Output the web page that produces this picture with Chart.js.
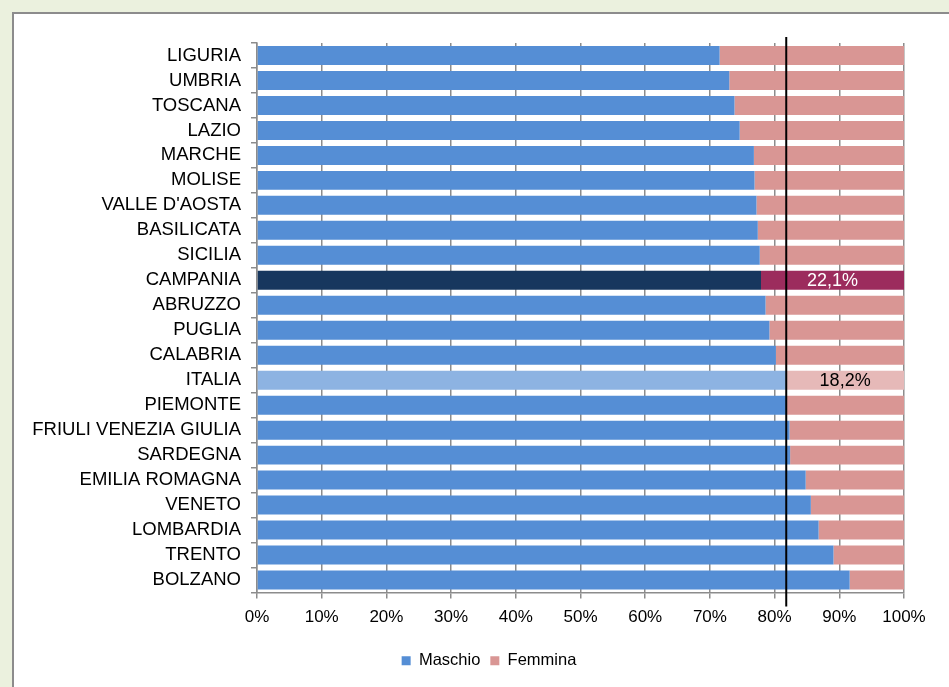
<!DOCTYPE html>
<html lang="it">
<head>
<meta charset="utf-8">
<title>Maschio / Femmina per regione</title>
<script src="https://cdn.jsdelivr.net/npm/chart.js@4.4.1/dist/chart.umd.min.js"></script>
<style>
  html, body { margin: 0; padding: 0; }
  body { width: 949px; height: 687px; background: #ebf1de; position: relative; overflow: hidden; }
  #panel { position: absolute; left: 12px; top: 12px; right: 0; bottom: 0;
           background: #ffffff; border-left: 2px solid #8c8c8c; border-top: 2px solid #8c8c8c; }
  #wrap { position: absolute; left: 0; top: 0; width: 949px; height: 687px; }
</style>
</head>
<body>
<div id="panel"></div>
<div id="wrap"><canvas id="chart" width="949" height="687"></canvas></div>
<script>
// Regions, sorted by share of men
const categories = [
  'LIGURIA', 'UMBRIA', 'TOSCANA', 'LAZIO', 'MARCHE', 'MOLISE', "VALLE D'AOSTA",
  'BASILICATA', 'SICILIA', 'CAMPANIA', 'ABRUZZO', 'PUGLIA', 'CALABRIA', 'ITALIA',
  'PIEMONTE', 'FRIULI VENEZIA GIULIA', 'SARDEGNA', 'EMILIA ROMAGNA', 'VENETO',
  'LOMBARDIA', 'TRENTO', 'BOLZANO'
];
// Percentage of men
const maschio = [
  71.5, 73.0, 73.8, 74.6, 76.8, 76.9, 77.2,
  77.4, 77.7, 77.9, 78.6, 79.2, 80.2, 81.8,
  81.9, 82.3, 82.4, 84.8, 85.6,
  86.8, 89.1, 91.6
];
// Percentage of women
const femmina = [
  28.5, 27.0, 26.2, 25.4, 23.2, 23.1, 22.8,
  22.6, 22.3, 22.1, 21.4, 20.8, 19.8, 18.2,
  18.1, 17.7, 17.6, 15.2, 14.4,
  13.2, 10.9, 8.4
];
const seriesNames = ['Maschio', 'Femmina'];

const HIGHLIGHT = 'CAMPANIA';
const NATIONAL = 'ITALIA';

const colMaschio = categories.map(c => c === HIGHLIGHT ? '#17375e' : c === NATIONAL ? '#8db3e2' : '#558ed5');
const colFemmina = categories.map(c => c === HIGHLIGHT ? '#9c2c5d' : c === NATIONAL ? '#e6b9b8' : '#d99694');

const FONT = "'Liberation Sans', Arial, sans-serif";

// Value labels on the women's segment of the highlighted rows
const valueLabels = {
  id: 'valueLabels',
  afterDatasetsDraw(chart) {
    const ctx = chart.ctx;
    const meta = chart.getDatasetMeta(1);
    ctx.save();
    ctx.font = '18px ' + FONT;
    ctx.textAlign = 'center';
    ctx.textBaseline = 'middle';
    [HIGHLIGHT, NATIONAL].forEach(name => {
      const i = categories.indexOf(name);
      const bar = meta.data[i];
      const p = bar.getProps(['x', 'y', 'base'], true);
      const txt = femmina[i].toFixed(1).replace('.', ',') + '%';
      ctx.fillStyle = name === HIGHLIGHT ? '#ffffff' : '#000000';
      ctx.fillText(txt, (p.x + p.base) / 2, p.y + 1);
    });
    ctx.restore();
  }
};

// Vertical reference line at the national share of men
const nationalLine = {
  id: 'nationalLine',
  afterDraw(chart) {
    const x = chart.scales.x.getPixelForValue(maschio[categories.indexOf(NATIONAL)]);
    const { top, bottom } = chart.chartArea;
    const ctx = chart.ctx;
    ctx.save();
    ctx.strokeStyle = '#000000';
    ctx.lineWidth = 2;
    ctx.beginPath();
    ctx.moveTo(x, top - 6);
    ctx.lineTo(x, bottom + 14);
    ctx.stroke();
    ctx.restore();
  }
};

// Legend sits a little right of the canvas centre, under the plot
const legendShift = {
  id: 'legendShift',
  afterLayout(chart) {
    const lg = chart.legend;
    if (lg) { lg.left += 27; lg.right += 27; }
  }
};

new Chart(document.getElementById('chart'), {
  type: 'bar',
  data: {
    labels: categories,
    datasets: [
      { label: seriesNames[0], data: maschio, backgroundColor: colMaschio, borderWidth: 0 },
      { label: seriesNames[1], data: femmina, backgroundColor: colFemmina, borderWidth: 0 }
    ]
  },
  options: {
    indexAxis: 'y',
    responsive: false,
    animation: false,
    devicePixelRatio: 1,
    barPercentage: 0.76,
    categoryPercentage: 1,
    layout: { padding: { left: 20, right: 45, top: 43, bottom: 8 } },
    scales: {
      x: {
        stacked: true,
        min: 0,
        max: 100,
        ticks: {
          stepSize: 10,
          padding: 9,
          color: '#000000',
          font: { family: FONT, size: 17 },
          callback: v => v + '%'
        },
        grid: { color: '#8c8c8c', lineWidth: 1.5, tickLength: 6, drawOnChartArea: true },
        border: { color: '#8c8c8c', width: 1.5 },
        afterFit(scale) { scale.height = 50; }
      },
      y: {
        stacked: true,
        ticks: {
          autoSkip: false,
          padding: 10,
          color: '#000000',
          font: { family: FONT, size: 18.5 }
        },
        grid: { color: '#8c8c8c', lineWidth: 1.5, tickLength: 6, offset: true, drawOnChartArea: false },
        border: { color: '#8c8c8c', width: 1.5 },
        afterFit(scale) { scale.width = 237; }
      }
    },
    plugins: {
      legend: {
        position: 'bottom',
        labels: {
          boxWidth: 9,
          boxHeight: 9,
          padding: 10,
          color: '#000000',
          font: { family: FONT, size: 16.5 },
          generateLabels(chart) {
            return chart.data.datasets.map((ds, i) => ({
              text: ds.label,
              fillStyle: i === 0 ? '#558ed5' : '#d99694',
              strokeStyle: 'rgba(0,0,0,0)',
              lineWidth: 0,
              hidden: false,
              datasetIndex: i
            }));
          }
        }
      },
      tooltip: { enabled: false }
    }
  },
  plugins: [valueLabels, nationalLine, legendShift]
});
</script>
</body>
</html>
